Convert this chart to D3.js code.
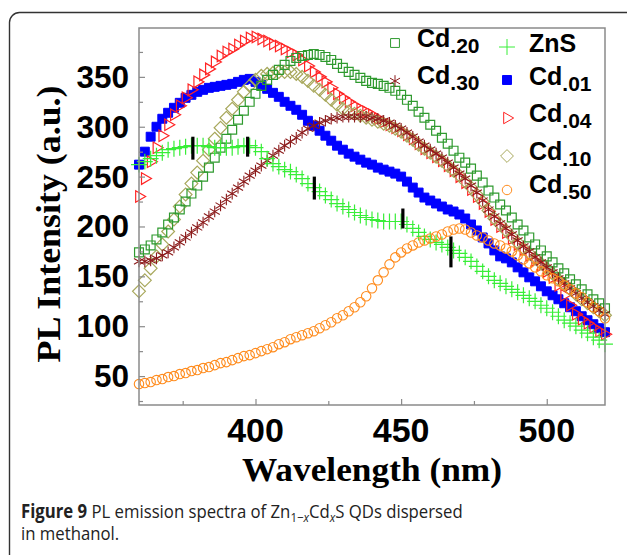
<!DOCTYPE html>
<html>
<head>
<meta charset="utf-8">
<script src="https://cdn.jsdelivr.net/npm/d3@7"></script>
<style>
  html, body { margin: 0; padding: 0; background: #fff; }
  svg { display: block; }
</style>
</head>
<body>
<div id="graph"></div>
<script>
/*******************************************************************************
* Data (wavelength grid in nm, PL intensity in a.u.)
*******************************************************************************/
var wavelengths = d3.range(360, 521, 2);

var znS = [262,265,268,271,274,277,278,279,280,281,281,281,280,279,279,279,279,280,281,281,
  279,275,268,263,260,257,255,252,248,243,239,235,231,227,223,220,217,214,211,209,
  207,206,205,205,205,205,202,198,194,190,187,184,182,179,176,173,169,165,160,155,
  150,146,143,140,137,134,131,128,125,121,118,114,110,106,103,100,96,93,89,86,82];

var cd01 = [262,275,290,300,308,314,319,324,329,332,335,337,339,340,341,342,343,345,347,348,
  345,342,338,334,330,325,321,317,312,306,301,296,291,286,281,277,273,270,267,264,
  262,259,257,255,253,250,245,239,234,229,226,223,220,217,215,212,208,202,196,189,
  183,176,170,168,164,159,154,149,145,140,135,131,127,123,119,115,110,106,102,98,94];

var cd04 = [230,248,265,279,291,302,312,321,329,337,345,352,358,365,371,375,378,382,386,389,
  390,388,386,383,381,378,375,372,367,361,355,350,345,339,333,329,325,321,318,315,
  312,308,305,302,299,296,292,288,283,278,274,270,266,261,256,250,244,237,230,223,
  215,207,200,194,188,182,177,171,166,161,155,149,141,131,121,112,107,103,99,95,92];

var cd10 = [135,146,158,170,182,195,207,220,232,243,254,266,277,288,299,309,318,327,335,341,
  347,351,353,354,355,355,355,353,350,346,341,337,332,327,322,318,315,313,311,309,
  307,305,303,301,298,295,291,287,282,278,274,270,266,261,256,251,245,239,232,225,
  216,208,202,196,190,184,178,173,168,163,158,153,147,142,137,132,127,123,119,115,111];

var cd20 = [174,177,181,187,194,202,209,217,225,233,241,250,259,269,279,288,297,307,316,325,
  333,341,347,352,357,362,366,369,371,372,373,372,370,367,363,359,355,352,349,346,
  344,343,341,339,336,332,327,321,315,309,302,296,289,283,276,269,264,258,251,244,
  236,229,222,216,209,202,196,189,182,176,170,164,158,153,147,142,137,132,127,123,118];

var cd30 = [165,165,166,168,171,174,179,184,189,194,199,204,210,215,221,227,233,239,245,251,
  256,261,266,271,276,281,285,289,294,298,301,304,306,308,309,310,310,310,310,310,
  309,308,306,304,301,298,294,290,285,281,277,273,269,264,259,253,248,241,234,226,
  217,210,203,198,192,186,180,175,169,164,159,154,148,143,138,133,128,124,120,116,112];

var cd50 = [42,43,44,46,47,49,50,52,53,55,56,58,59,61,63,64,66,68,70,71,
  73,75,77,79,82,84,87,89,91,93,95,98,101,104,108,111,115,119,124,130,
  138,146,154,162,169,174,178,181,184,186,188,190,192,195,197,198,197,194,191,189,
  186,183,181,178,175,171,167,163,159,155,151,148,145,141,137,133,129,124,119,115,108];

// short black marks drawn on the spectra: [wavelength, top, bottom]
var peakMarks = [[378.5, 290, 267], [397.3, 290, 270], [420.2, 250, 227], [450.6, 218, 198], [467.1, 190, 159]];

var yTicks = [50, 100, 150, 200, 250, 300, 350];
var xTicks = [400, 450, 500];

/*******************************************************************************
* Svg Container
*******************************************************************************/
var W = 627, H = 555;
var svg = d3.select("#graph").append("svg")
  .attr("width", W)
  .attr("height", H);

svg.append("rect")
  .attr("x", 9.5).attr("y", 12.5)
  .attr("width", 680).attr("height", 640)
  .attr("rx", 10).attr("ry", 10)
  .attr("fill", "#fff")
  .attr("stroke", "#333")
  .attr("stroke-width", 1.4);

var plot = { left: 139, top: 28, right: 605, bottom: 405 };

var x = d3.scaleLinear().domain([360, 520]).range([plot.left, plot.right]);
var y = d3.scaleLinear().domain([21, 399]).range([plot.bottom, plot.top]);

/*******************************************************************************
* Series
*******************************************************************************/
var series = [
  { key: "cd01", values: cd01, type: d3.symbolSquare, size: 80, fill: "#0000ff", stroke: "#0000ff", sw: 1 },
  { key: "cd04", values: cd04, type: d3.symbolTriangle2, size: 95, rotate: 90, fill: "none", stroke: "#ff2424", sw: 1.2 },
  { key: "cd10", values: cd10, type: d3.symbolDiamond2, size: 105, fill: "none", stroke: "#a8a85c", sw: 1.2 },
  { key: "cd20", values: cd20, type: d3.symbolSquare2, size: 100, fill: "none", stroke: "#2f9a2f", sw: 1.2 },
  { key: "cd30", values: cd30, type: d3.symbolAsterisk, size: 95, fill: "none", stroke: "#8b1a1a", sw: 1.1 },
  { key: "znS",  values: znS,  type: d3.symbolPlus, size: 85, fill: "none", stroke: "#38ee38", sw: 1.2 },
  { key: "cd50", values: cd50, type: d3.symbolCircle, size: 70, fill: "none", stroke: "#ff8c1e", sw: 1.1 }
];

var marksGroup = svg.append("g");
series.forEach(function (s) {
  var path = d3.symbol().type(s.type).size(s.size)();
  marksGroup.append("g")
    .attr("class", s.key)
    .selectAll("path")
    .data(s.values)
    .enter()
    .append("path")
    .attr("d", path)
    .attr("transform", function (d, i) {
      return "translate(" + x(wavelengths[i]) + "," + y(d) + ")" + (s.rotate ? " rotate(" + s.rotate + ")" : "");
    })
    .attr("fill", s.fill)
    .attr("stroke", s.stroke)
    .attr("stroke-width", s.sw);
});

svg.append("g").selectAll("line")
  .data(peakMarks)
  .enter()
  .append("line")
  .attr("x1", function (d) { return x(d[0]); })
  .attr("x2", function (d) { return x(d[0]); })
  .attr("y1", function (d) { return y(d[1]); })
  .attr("y2", function (d) { return y(d[2]); })
  .attr("stroke", "#000")
  .attr("stroke-width", 3.2);

/*******************************************************************************
* Frame and axes
*******************************************************************************/
svg.append("rect")
  .attr("x", plot.left).attr("y", plot.top)
  .attr("width", plot.right - plot.left).attr("height", plot.bottom - plot.top)
  .attr("fill", "none")
  .attr("stroke", "#8a8a8a")
  .attr("stroke-width", 1.5);

var yAxis = svg.append("g")
  .attr("transform", "translate(" + plot.left + ",0)")
  .call(d3.axisRight(y).tickValues(d3.range(25, 399, 25)).tickSize(5).tickFormat(""));
var xAxis = svg.append("g")
  .attr("transform", "translate(0," + plot.bottom + ")")
  .call(d3.axisTop(x).tickValues(d3.range(375, 520, 25)).tickSize(5).tickFormat(""));
[yAxis, xAxis].forEach(function (a) {
  a.select(".domain").remove();
  a.selectAll(".tick line").attr("stroke", "#8a8a8a").attr("stroke-width", 1.2);
});
yAxis.selectAll(".tick line").attr("x2", function (d) { return d % 50 === 0 ? 6 : 4; });
xAxis.selectAll(".tick line").attr("y2", function (d) { return d % 50 === 0 ? -6 : -4; });

svg.append("g").selectAll("text")
  .data(yTicks)
  .enter()
  .append("text")
  .attr("x", 129)
  .attr("y", function (d) { return y(d) + 11; })
  .attr("text-anchor", "end")
  .style("font", "bold 31.5px 'Liberation Sans', Arial, sans-serif")
  .text(function (d) { return d; });

svg.append("g").selectAll("text")
  .data(xTicks)
  .enter()
  .append("text")
  .attr("x", function (d) { return x(d); })
  .attr("y", 442)
  .attr("text-anchor", "middle")
  .style("font", "bold 34px 'Liberation Sans', Arial, sans-serif")
  .text(function (d) { return d; });

svg.append("text")
  .attr("transform", "translate(60,224) rotate(-90)")
  .attr("text-anchor", "middle")
  .attr("textLength", 277)
  .attr("lengthAdjust", "spacingAndGlyphs")
  .style("font", "bold 34px 'Liberation Serif', 'Times New Roman', serif")
  .text("PL Intensity (a.u.)");

svg.append("text")
  .attr("x", 372)
  .attr("y", 481)
  .attr("text-anchor", "middle")
  .attr("textLength", 260)
  .attr("lengthAdjust", "spacingAndGlyphs")
  .style("font", "bold 34px 'Liberation Serif', 'Times New Roman', serif")
  .text("Wavelength (nm)");

/*******************************************************************************
* Legend
*******************************************************************************/
var legendItems = [
  { key: "cd20", label: "Cd", sub: ".20", sx: 395, sy: 43, base: 47 },
  { key: "cd30", label: "Cd", sub: ".30", sx: 395, sy: 81, base: 84 },
  { key: "znS",  label: "ZnS", sub: "", sx: 507, sy: 47, base: 52 },
  { key: "cd01", label: "Cd", sub: ".01", sx: 507, sy: 80, base: 85 },
  { key: "cd04", label: "Cd", sub: ".04", sx: 507, sy: 118, base: 122 },
  { key: "cd10", label: "Cd", sub: ".10", sx: 507, sy: 156, base: 160 },
  { key: "cd50", label: "Cd", sub: ".50", sx: 507, sy: 190, base: 193 }
];

var legend = svg.append("g");
legendItems.forEach(function (item) {
  var s = series.filter(function (d) { return d.key === item.key; })[0];
  legend.append("path")
    .attr("d", d3.symbol().type(s.type).size(s.size)())
    .attr("transform", "translate(" + item.sx + "," + item.sy + ")" + (s.rotate ? " rotate(" + s.rotate + ")" : ""))
    .attr("fill", s.fill)
    .attr("stroke", s.stroke)
    .attr("stroke-width", 1);
  var t = legend.append("text")
    .attr("x", item.sx + 22)
    .attr("y", item.base)
    .style("font", "bold 25px 'Liberation Sans', Arial, sans-serif");
  t.append("tspan").text(item.label);
  if (item.sub) {
    t.append("tspan").attr("dy", 6).style("font-size", "21px").text(item.sub);
  }
});

/*******************************************************************************
* Caption
*******************************************************************************/
var capFont = "19px 'Open Sans', 'Noto Sans', sans-serif";
var cap1 = svg.append("text").attr("y", 518).style("font", capFont).attr("fill", "#222");
cap1.append("tspan").style("font-weight", "bold").text("Figure 9");
cap1.append("tspan").text(" PL emission spectra of Zn");
cap1.append("tspan").attr("dy", 4).style("font-size", "13px").text("1\u2212");
cap1.append("tspan").style("font-size", "13px").style("font-style", "italic").text("x");
cap1.append("tspan").attr("dy", -4).text("Cd");
cap1.append("tspan").attr("dy", 4).style("font-size", "13px").style("font-style", "italic").text("x");
cap1.append("tspan").attr("dy", -4).text("S QDs dispersed");

var cap2 = svg.append("text").attr("y", 540).style("font", capFont).attr("fill", "#222")
  .text("in methanol.");

var capScale = 442 / cap1.node().getComputedTextLength();
cap1.attr("transform", "translate(21,0) scale(" + capScale + ",1)");
cap2.attr("transform", "translate(21,0) scale(" + capScale + ",1)");
</script>
</body>
</html>
